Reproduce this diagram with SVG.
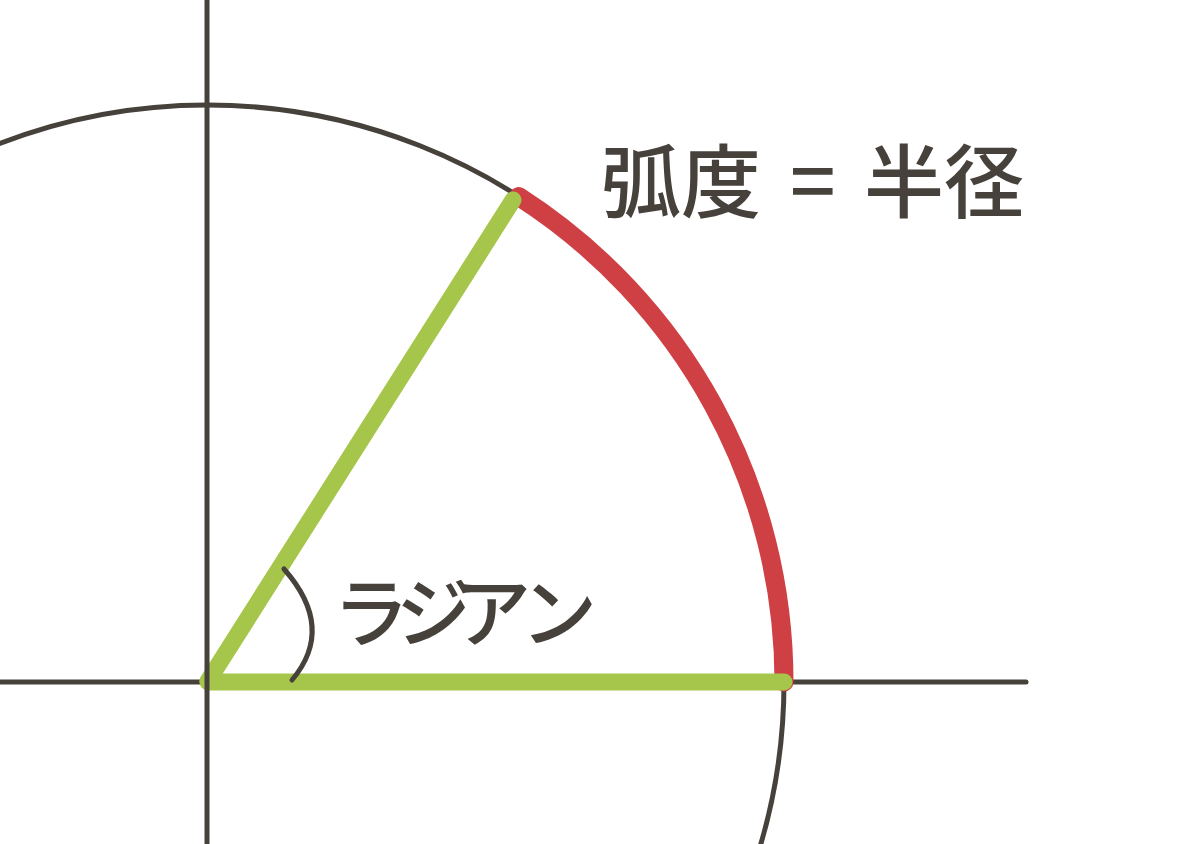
<svg xmlns="http://www.w3.org/2000/svg" width="1184" height="844" viewBox="0 0 1184 844">
  <style>
    .ink { stroke: #46413a; fill: none; stroke-linecap: round; }
    .green { stroke: #a5c64b; stroke-width: 17; stroke-linecap: round; fill: none; }
    .red { stroke: #cf4044; stroke-width: 19; stroke-linecap: round; fill: none; }
    .label { fill: #46413a; font-family: "Noto Sans CJK JP", "Noto Sans CJK SC", "Noto Sans", sans-serif; font-weight: 500; }
  </style>
  <rect width="1184" height="844" fill="#ffffff"/>
  <g id="circle">
    <circle class="ink" cx="207" cy="682" r="577" stroke-width="5"/>
  </g>
  <g id="x-axis">
    <line class="ink" x1="-5" y1="682" x2="1026" y2="682" stroke-width="5"/>
  </g>
  <g id="connectors">
    <path id="arc-length" class="red" d="M784,682 A577,577 0 0 0 518.7,196.5"/>
    <line id="radius-horizontal" class="green" x1="208" y1="682" x2="784" y2="682"/>
    <line id="radius-diagonal" class="green" x1="208" y1="681" x2="513" y2="200"/>
  </g>
  <g id="y-axis">
    <line class="ink" x1="207" y1="-5" x2="207" y2="850" stroke-width="5"/>
  </g>
  <g id="angle-mark">
    <path class="ink" d="M284,569 Q336,628 292,680" stroke-width="5"/>
  </g>
  <g id="label-radian">
    <text class="label" font-size="76" x="333 396 455 521" y="641">ラジアン</text>
  </g>
  <g id="label-title">
    <text class="label" font-size="80"><tspan x="601" y="211">弧度</tspan><tspan x="790" y="211">=</tspan><tspan x="864" y="211">半径</tspan></text>
  </g>
</svg>
